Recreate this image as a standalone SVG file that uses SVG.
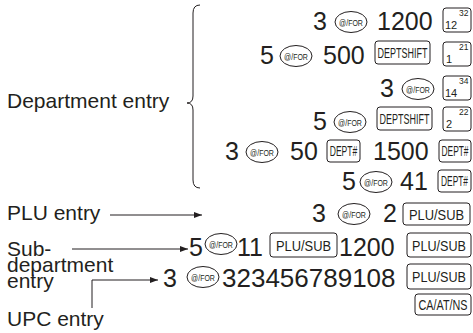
<svg xmlns="http://www.w3.org/2000/svg" xmlns:xlink="http://www.w3.org/1999/xlink" width="473" height="333" viewBox="0 0 473 333">
<style>
.n{font-family:"Liberation Sans",Arial,sans-serif;font-size:25px;fill:#231f20}
.l{font-family:"Liberation Sans",Arial,sans-serif;font-size:21px;fill:#231f20}
.o{fill:#fff;stroke:#231f20;stroke-width:1}
.ot{font-family:"Liberation Sans",Arial,sans-serif;font-size:9.5px;fill:#231f20;text-anchor:middle}
.k{fill:#fff;stroke:#231f20;stroke-width:1}
.kt{font-family:"Liberation Sans",Arial,sans-serif;font-size:15px;fill:#231f20;text-anchor:middle}
.ks{font-family:"Liberation Sans",Arial,sans-serif;font-size:11px;fill:#231f20}
.kp{font-family:"Liberation Sans",Arial,sans-serif;font-size:8.5px;fill:#231f20}
.c{fill:none;stroke:#231f20;stroke-width:1}
</style>
<defs>
<marker id="ah" markerWidth="8" markerHeight="6" refX="8" refY="3" orient="auto" markerUnits="userSpaceOnUse"><path d="M0,0 L8,3 L0,6 Z" fill="#231f20"/></marker>
<g id="at"><ellipse cx="0" cy="0" rx="16" ry="10.5" class="o"/><text class="ot" transform="translate(0,3.5) scale(0.74,1)">@/FOR</text></g>
</defs>

<g id="labels">
<text class="l" x="7" y="108">Department entry</text>
<text class="l" x="7" y="220">PLU entry</text>
<text class="l" x="7" y="256">Sub-</text>
<text class="l" x="7" y="272">department</text>
<text class="l" x="7" y="288">entry</text>
<text class="l" x="7" y="326">UPC entry</text>
</g>

<g id="connectors">
<path class="c" d="M200,5 Q193,5 193,13 L193,96 Q193,103 187,103 Q193,103 193,110 L193,180 Q193,188 200,188"/>
<line class="c" x1="110" y1="215" x2="202" y2="215" marker-end="url(#ah)"/>
<line class="c" x1="72" y1="249" x2="188" y2="249" marker-end="url(#ah)"/>
<polyline class="c" points="92,308 92,280 158,280" marker-end="url(#ah)"/>
</g>

<g id="row1">
<text class="n" x="313" y="30">3</text>
<use xlink:href="#at" x="351" y="22"/>
<text class="n" x="377" y="30">1200</text>
<rect class="k" x="443" y="8" width="28" height="24" rx="3"/>
<text class="ks" x="445" y="29">12</text><text class="kp" x="459" y="16">32</text>
</g>

<g id="row2">
<text class="n" x="260" y="64">5</text>
<use xlink:href="#at" x="296" y="56"/>
<text class="n" x="323" y="64">500</text>
<rect class="k" x="375" y="41" width="55" height="23" rx="3"/>
<text class="kt" transform="translate(402.5,58) scale(0.6,1)">DEPTSHIFT</text>
<rect class="k" x="443" y="42" width="28" height="24" rx="3"/>
<text class="ks" x="446" y="63">1</text><text class="kp" x="459" y="50">21</text>
</g>

<g id="row3">
<text class="n" x="380" y="97">3</text>
<use xlink:href="#at" x="418" y="89"/>
<rect class="k" x="443" y="76" width="28" height="24" rx="3"/>
<text class="ks" x="445" y="97">14</text><text class="kp" x="459" y="84">34</text>
</g>

<g id="row4">
<text class="n" x="313" y="130">5</text>
<use xlink:href="#at" x="350" y="122"/>
<rect class="k" x="377" y="107" width="55" height="23" rx="3"/>
<text class="kt" transform="translate(404.5,124) scale(0.6,1)">DEPTSHIFT</text>
<rect class="k" x="443" y="107" width="28" height="24" rx="3"/>
<text class="ks" x="446" y="128">2</text><text class="kp" x="459" y="115">22</text>
</g>

<g id="row5">
<text class="n" x="225" y="160">3</text>
<use xlink:href="#at" x="262" y="152"/>
<text class="n" x="290" y="160">50</text>
<rect class="k" x="327" y="140" width="33" height="22" rx="3"/>
<text class="kt" transform="translate(343.5,156) scale(0.57,1)">DEPT#</text>
<text class="n" x="373" y="160">1500</text>
<rect class="k" x="439" y="140" width="32" height="22" rx="3"/>
<text class="kt" transform="translate(455,156) scale(0.56,1)">DEPT#</text>
</g>

<g id="row6">
<text class="n" x="342" y="190">5</text>
<use xlink:href="#at" x="376" y="182"/>
<text class="n" x="400" y="190">41</text>
<rect class="k" x="438" y="170" width="33" height="22" rx="3"/>
<text class="kt" transform="translate(454.5,186) scale(0.56,1)">DEPT#</text>
</g>

<g id="row7">
<text class="n" x="312" y="222">3</text>
<use xlink:href="#at" x="354" y="214"/>
<text class="n" x="383" y="222">2</text>
<rect class="k" x="403" y="203" width="67" height="22" rx="3"/>
<text class="kt" transform="translate(436.5,219.5) scale(0.86,1)">PLU/SUB</text>
</g>

<g id="row8">
<text class="n" x="189" y="256">5</text>
<use xlink:href="#at" x="221" y="244"/>
<text class="n" x="237" y="256">11</text>
<rect class="k" x="270" y="233" width="67" height="24" rx="3"/>
<text class="kt" transform="translate(303.5,250.5) scale(0.86,1)">PLU/SUB</text>
<text class="n" x="339" y="256">1200</text>
<rect class="k" x="407" y="233" width="64" height="24" rx="3"/>
<text class="kt" transform="translate(439,250.5) scale(0.84,1)">PLU/SUB</text>
</g>

<g id="row9">
<text class="n" x="163" y="287">3</text>
<use xlink:href="#at" x="203" y="277"/>
<text class="n" x="222" y="287" style="font-size:26px">323456789108</text>
<rect class="k" x="407" y="264" width="64" height="25" rx="3"/>
<text class="kt" transform="translate(439,282) scale(0.84,1)">PLU/SUB</text>
</g>

<g id="row10">
<rect class="k" x="415" y="294" width="56" height="21" rx="3"/>
<text class="kt" transform="translate(443,310) scale(0.72,1)">CA/AT/NS</text>
</g>
</svg>
